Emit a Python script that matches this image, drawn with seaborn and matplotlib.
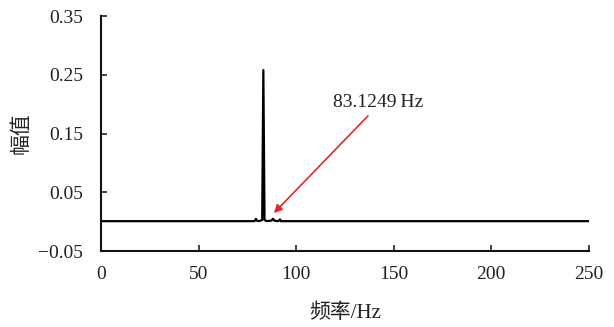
import numpy as np
import pandas as pd
import seaborn as sns
import matplotlib
matplotlib.use('Agg')
import matplotlib.pyplot as plt

# spectrum (frequency in Hz, amplitude)
freq = [0, 78.4, 79.0, 79.4, 79.8, 81.0, 82.6, 83.2, 83.8, 85.0, 87.4, 88.1, 88.8, 90.4, 91.2, 91.7, 92.2, 250]
amp = [0.001, 0.001, 0.002, 0.005, 0.002, 0.001, 0.003, 0.258, 0.003, 0.001, 0.002, 0.005, 0.002, 0.001, 0.002, 0.004, 0.001, 0.001]

x_ticks = [0, 50, 100, 150, 200, 250]
y_ticks = [-0.05, 0.05, 0.15, 0.25, 0.35]
peak_label = '83.1249\u2009Hz'

sns.set_style('ticks')
plt.rcParams['font.family'] = ['Liberation Serif', 'Noto Sans CJK SC']
plt.rcParams['axes.unicode_minus'] = True

df = pd.DataFrame({'freq': freq, 'amp': amp})

fig, ax = plt.subplots(figsize=(6.14, 3.27), dpi=100)
fig.subplots_adjust(left=0.1645, right=0.959, top=0.951, bottom=0.232)

sns.lineplot(data=df, x='freq', y='amp', color='black', linewidth=1.6, ax=ax)

ax.set_xlim(0, 250)
ax.set_ylim(-0.05, 0.35)
ax.set_xticks(x_ticks)
ax.set_yticks(y_ticks)
ax.set_yticklabels(['\u22120.05', '0.05', '0.15', '0.25', '0.35'])
ax.tick_params(direction='in', length=4, width=1.2, labelsize=14, colors='#222222')
ax.tick_params(axis='y', pad=13)
ax.tick_params(axis='x', pad=11)
for s in ['top', 'right']:
    ax.spines[s].set_visible(False)
for s in ['left', 'bottom']:
    ax.spines[s].set_linewidth(1.5)
    ax.spines[s].set_color('#111111')

ax.set_xlabel('频率/Hz', fontsize=15, color='#222222', va='center')
ax.set_ylabel('幅值', fontsize=15, color='#222222', va='center')
ax.xaxis.set_label_coords(0.5, -0.264)
ax.yaxis.set_label_coords(-0.162, 0.5)

ax.text(142, 0.203, peak_label, fontsize=14, ha='center', va='center', color='#222222')
ax.annotate('', xy=(88.6, 0.0147), xytext=(136.8, 0.180),
            arrowprops=dict(arrowstyle='-|>', color='#e8262a', lw=1.2,
                            mutation_scale=12, shrinkA=0, shrinkB=0))

fig.savefig('out.png', dpi=100)
